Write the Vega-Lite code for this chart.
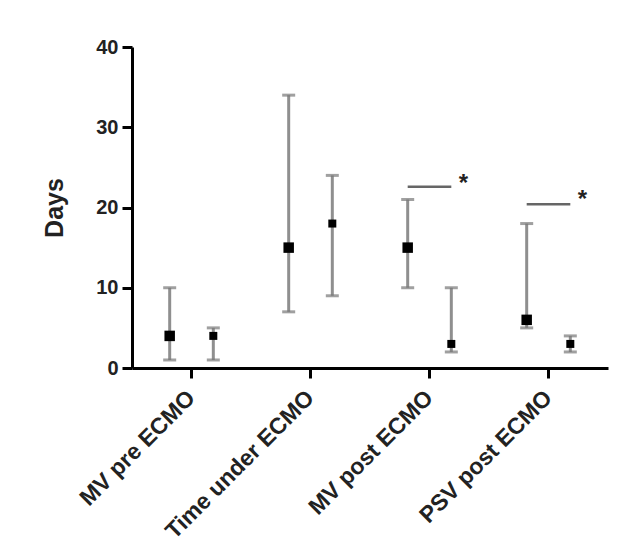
{
  "$schema": "https://vega.github.io/schema/vega-lite/v6.json",
  "width": 476,
  "height": 321,
  "autosize": "none",
  "padding": {"left": 132, "top": 47, "right": 27, "bottom": 178},
  "background": "white",
  "config": {
    "view": {"stroke": null},
    "font": "Liberation Sans",
    "axis": {"grid": false}
  },
  "datasets": {
    "pts": [
      {"measure": "MV pre ECMO", "group": "A", "median": 4, "low": 1, "high": 10},
      {"measure": "MV pre ECMO", "group": "B", "median": 4, "low": 1, "high": 5},
      {"measure": "Time under ECMO", "group": "A", "median": 15, "low": 7, "high": 34},
      {"measure": "Time under ECMO", "group": "B", "median": 18, "low": 9, "high": 24},
      {"measure": "MV post ECMO", "group": "A", "median": 15, "low": 10, "high": 21},
      {"measure": "MV post ECMO", "group": "B", "median": 3, "low": 2, "high": 10},
      {"measure": "PSV post ECMO", "group": "A", "median": 6, "low": 5, "high": 18},
      {"measure": "PSV post ECMO", "group": "B", "median": 3, "low": 2, "high": 4}
    ],
    "brackets": [
      {"measure": "MV post ECMO", "group": "A", "y": 22.6, "id": "b1"},
      {"measure": "MV post ECMO", "group": "B", "y": 22.6, "id": "b1"},
      {"measure": "PSV post ECMO", "group": "A", "y": 20.4, "id": "b2"},
      {"measure": "PSV post ECMO", "group": "B", "y": 20.4, "id": "b2"}
    ],
    "stars": [
      {"measure": "MV post ECMO", "group": "B", "y": 23.7, "label": "*"},
      {"measure": "PSV post ECMO", "group": "B", "y": 21.7, "label": "*"}
    ]
  },
  "encoding": {
    "x": {
      "field": "measure",
      "type": "nominal",
      "sort": ["MV pre ECMO", "Time under ECMO", "MV post ECMO", "PSV post ECMO"],
      "scale": {"paddingInner": 0, "paddingOuter": 0},
      "axis": {
        "title": null,
        "labelAngle": -45,
        "labelAlign": "right",
        "labelBaseline": "middle",
        "labelFontSize": 23,
        "labelFontWeight": "bold",
        "labelColor": "#222",
        "labelPadding": 16,
        "labelLimit": 400,
        "domainColor": "black",
        "domainWidth": 3,
        "tickColor": "black",
        "tickWidth": 3,
        "tickSize": 10
      }
    },
    "xOffset": {
      "field": "group",
      "type": "nominal",
      "scale": {"domain": ["A", "B"], "paddingInner": 0, "paddingOuter": 0.364}
    }
  },
  "layer": [
    {
      "data": {"name": "pts"},
      "mark": {"type": "rule", "color": "#8f8f8f", "strokeWidth": 3},
      "encoding": {
        "y": {
          "field": "low",
          "type": "quantitative",
          "scale": {"domain": [0, 40], "nice": false},
          "axis": {
            "title": "Days",
            "titleFontSize": 25,
            "titleFontWeight": "bold",
            "titleColor": "#222",
            "titlePadding": 28,
            "values": [0, 10, 20, 30, 40],
            "labelFontSize": 20,
            "labelFontWeight": "bold",
            "labelColor": "#222",
            "labelPadding": 4,
            "domainColor": "black",
            "domainWidth": 3,
            "tickColor": "black",
            "tickWidth": 3,
            "tickSize": 10
          }
        },
        "y2": {"field": "high"}
      }
    },
    {
      "data": {"name": "pts"},
      "mark": {"type": "tick", "color": "#777", "thickness": 3, "size": 13},
      "encoding": {"y": {"field": "low", "type": "quantitative"}}
    },
    {
      "data": {"name": "pts"},
      "mark": {"type": "tick", "color": "#777", "thickness": 3, "size": 13},
      "encoding": {"y": {"field": "high", "type": "quantitative"}}
    },
    {
      "data": {"name": "pts"},
      "mark": {"type": "point", "shape": "square", "filled": true, "color": "black", "opacity": 1},
      "encoding": {
        "y": {"field": "median", "type": "quantitative"},
        "size": {"field": "group", "type": "nominal", "scale": {"domain": ["A", "B"], "range": [110, 64]}, "legend": null}
      }
    },
    {
      "data": {"name": "brackets"},
      "mark": {"type": "line", "color": "#666", "strokeWidth": 2.5},
      "encoding": {
        "y": {"field": "y", "type": "quantitative"},
        "detail": {"field": "id"}
      }
    },
    {
      "data": {"name": "stars"},
      "mark": {"type": "text", "fontSize": 24, "fontWeight": "bold", "color": "#222", "dx": 12, "dy": 6, "baseline": "middle"},
      "encoding": {
        "y": {"field": "y", "type": "quantitative"},
        "text": {"field": "label"}
      }
    }
  ]
}
